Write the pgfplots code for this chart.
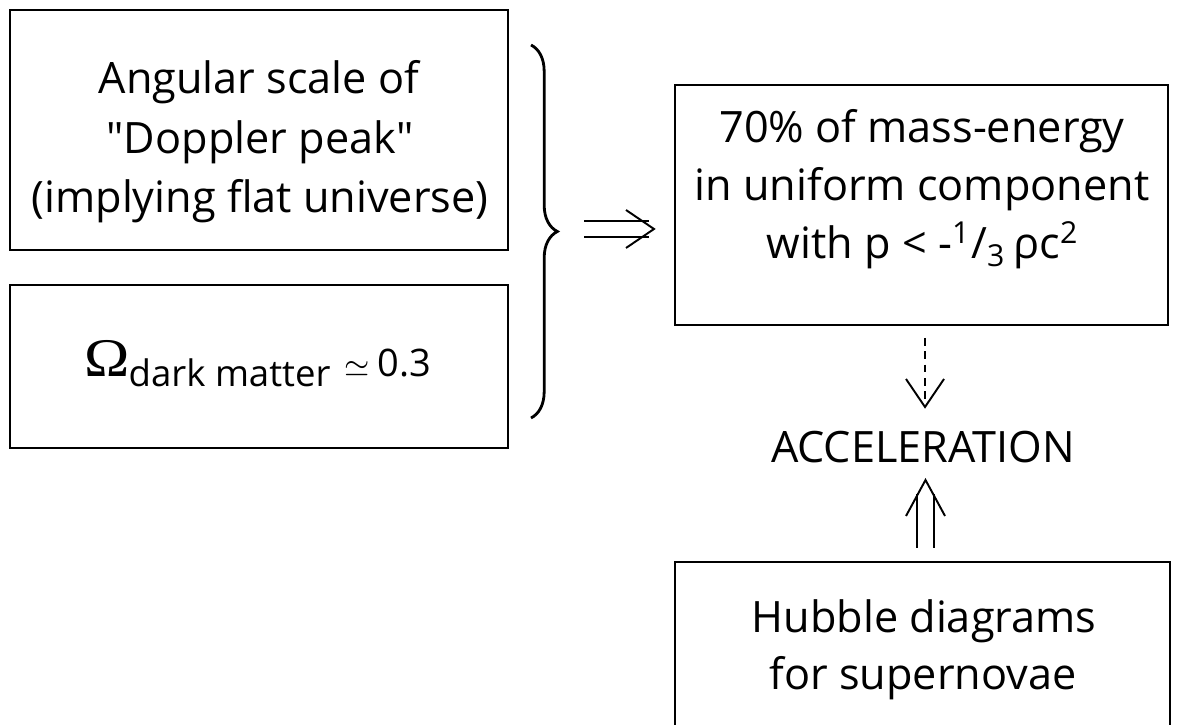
\documentclass[border=0pt]{standalone}
\usepackage{pgfplots}
\pgfplotsset{compat=1.18}
\usetikzlibrary{decorations.pathreplacing}
\usepackage{fontspec}
\setmainfont{Open Sans}[Ligatures=TeXOff]
\newfontfamily\omegafont{Liberation Serif}
\begin{document}
\begin{tikzpicture}
\begin{axis}[
  name=ax,
  scale only axis, width=11.81cm, height=7.25cm,
  xmin=0, xmax=1181, ymin=0, ymax=725, y dir=reverse,
  hide axis, clip=false,
]
\coordinate (SW) at (axis cs:0,725);
\coordinate (NE) at (axis cs:1181,0);
% boxes
\draw[line width=0.6pt] (axis cs:10,10) rectangle (axis cs:508,250);
\draw[line width=0.6pt] (axis cs:10,285) rectangle (axis cs:508,448);
\draw[line width=0.6pt] (axis cs:675,85) rectangle (axis cs:1168,325);
\draw[line width=0.6pt] (axis cs:675,725) -- (axis cs:675,562) -- (axis cs:1170,562) -- (axis cs:1170,725);
% box 1
\begin{scope}[every node/.style={anchor=base, inner sep=0pt, font=\fontsize{12.3}{15}\selectfont}]
\node at (axis cs:259,94) {Angular scale of};
\node at (axis cs:260,154) {\symbol{34}Doppler peak\symbol{34}};
\node at (axis cs:260,213) {(implying flat universe)};
% box 3
\node at (axis cs:922,143) {70\% of mass-energy};
\node at (axis cs:922,201) {in uniform component};
\node at (axis cs:923,259) {with p < -\textsuperscript{1}/\textsubscript{3}\,ρc\textsuperscript{2}};
% acceleration
\node at (axis cs:923,463) {ACCELERATION};
% box 4
\node at (axis cs:924,632) {Hubble diagrams};
\node at (axis cs:923,689) {for supernovae};
\end{scope}
% box 2
\node[anchor=base west, inner sep=0pt] at (axis cs:84,377)
  {\omegafont\fontsize{15.5}{16}\selectfont\scalebox{1.12}[1]{Ω}};
\node[anchor=base west, inner sep=0pt, font=\fontsize{10.4}{12}\selectfont] at (axis cs:128,387) {dark matter};
\node[anchor=base west, inner sep=0pt, font=\fontsize{9}{11}\selectfont] at (axis cs:344,377) {$\simeq$};
\node[anchor=base west, inner sep=0pt, font=\fontsize{10.8}{12}\selectfont] at (axis cs:377,377) {0.3};
% brace
\draw[line width=0.8pt, decorate, decoration={brace, amplitude=7.5pt}]
  (axis cs:531,45) -- (axis cs:531,418);
% double right arrow
\draw[line width=0.55pt] (axis cs:584,221) -- (axis cs:649,221);
\draw[line width=0.55pt] (axis cs:584,237) -- (axis cs:649,237);
\draw[line width=0.55pt] (axis cs:626,210) -- (axis cs:654,229) -- (axis cs:626,248);
% dashed arrow
\draw[line width=0.5pt, dash pattern=on 2.2pt off 1.6pt] (axis cs:925,338) -- (axis cs:925,405);
\draw[line width=0.55pt] (axis cs:906,379) -- (axis cs:925,407) -- (axis cs:944,379);
% double up arrow
\draw[line width=0.55pt] (axis cs:917,494) -- (axis cs:917,548);
\draw[line width=0.55pt] (axis cs:934,494) -- (axis cs:934,548);
\draw[line width=0.55pt] (axis cs:906,516) -- (axis cs:925.5,480) -- (axis cs:945,516);
\end{axis}
\pgfresetboundingbox
\path (SW) rectangle (NE);
\end{tikzpicture}
\end{document}
